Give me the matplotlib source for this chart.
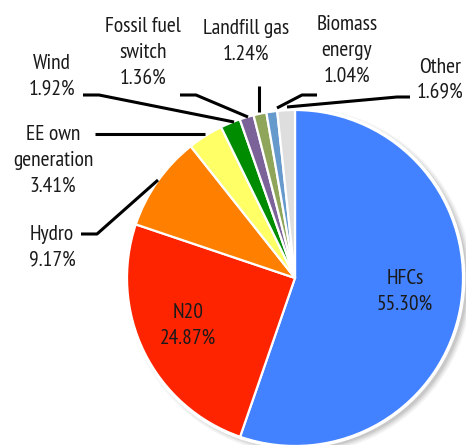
import matplotlib
matplotlib.use("Agg")
import matplotlib.pyplot as plt
from matplotlib.patches import Circle
from matplotlib import font_manager

categories = ["HFCs", "N20", "Hydro", "EE own\ngeneration", "Wind",
              "Fossil fuel\nswitch", "Landfill gas", "Biomass\nenergy", "Other"]
shares = [55.30, 24.87, 9.17, 3.41, 1.92, 1.36, 1.24, 1.04, 1.69]
colors = ["#4281FF", "#FF2400", "#FF8000", "#FFFF66", "#008C00",
          "#7B6399", "#8FA65A", "#6699CC", "#DEDEDE"]

names = {f.name for f in font_manager.fontManager.ttflist}
preferred = ["PT Sans Narrow", "Fira Sans Condensed", "Open Sans Condensed",
             "Roboto Condensed", "Asap Condensed", "Archivo Narrow",
             "Barlow Semi Condensed"]
family = next((f for f in preferred if f in names), "DejaVu Sans")

W, H = 466, 445
fig = plt.figure(figsize=(W / 100, H / 100), dpi=100)
ax = fig.add_axes([0, 0, 1, 1])


def Y(y):
    return H - y


cx, cy, r = 295, Y(278), 168

wedges, _ = ax.pie(shares, colors=colors, startangle=90, counterclock=False,
                   center=(cx, cy), radius=r, frame=True,
                   wedgeprops=dict(edgecolor="white", linewidth=1.6))
ax.set_xlim(0, W)
ax.set_ylim(0, H)
ax.set_aspect("equal")
ax.axis("off")

# soft drop shadow behind the pie
for i, a in enumerate([0.06, 0.08, 0.10, 0.12]):
    ax.add_patch(Circle((cx + 4, cy - 3), r + 5 - i * 1.5, color="#555555",
                        alpha=a, lw=0, zorder=0))
ax.add_patch(Circle((cx, cy), r + 1, fill=False, ec="white", lw=2, zorder=3))

fs = 15.5
tc = "#1a1a1a"


def label(i, x, y):
    ax.text(x, Y(y), f"{categories[i]}\n{shares[i]:.2f}%", ha="center", va="center",
            fontsize=fs, family=family, color=tc, linespacing=1.45, zorder=5)


label(0, 405, 291)
label(1, 188, 325)
label(2, 52, 247)
label(3, 53, 160)
label(4, 52, 76)
label(5, 143, 52)
label(6, 246, 41)
label(7, 347, 50)
label(8, 440, 80)

lk = dict(color="black", lw=2.2, solid_capstyle="butt", zorder=4)
leaders = [
    [(81, 234), (97, 234), (158, 180)],      # Hydro
    [(95, 134), (205, 134)],                 # EE own generation
    [(83, 95), (99, 95), (234, 122)],        # Wind
    [(180, 95), (196, 95), (248, 117)],      # Fossil fuel switch
    [(259, 86), (259, 112)],                 # Landfill gas
    [(317, 95), (302, 95), (277, 108)],      # Biomass energy
    [(410, 97), (397, 97), (287, 107)],      # Other
]
for pts in leaders:
    ax.plot([p[0] for p in pts], [Y(p[1]) for p in pts], **lk)

fig.savefig("out.png", dpi=100, facecolor="white")
